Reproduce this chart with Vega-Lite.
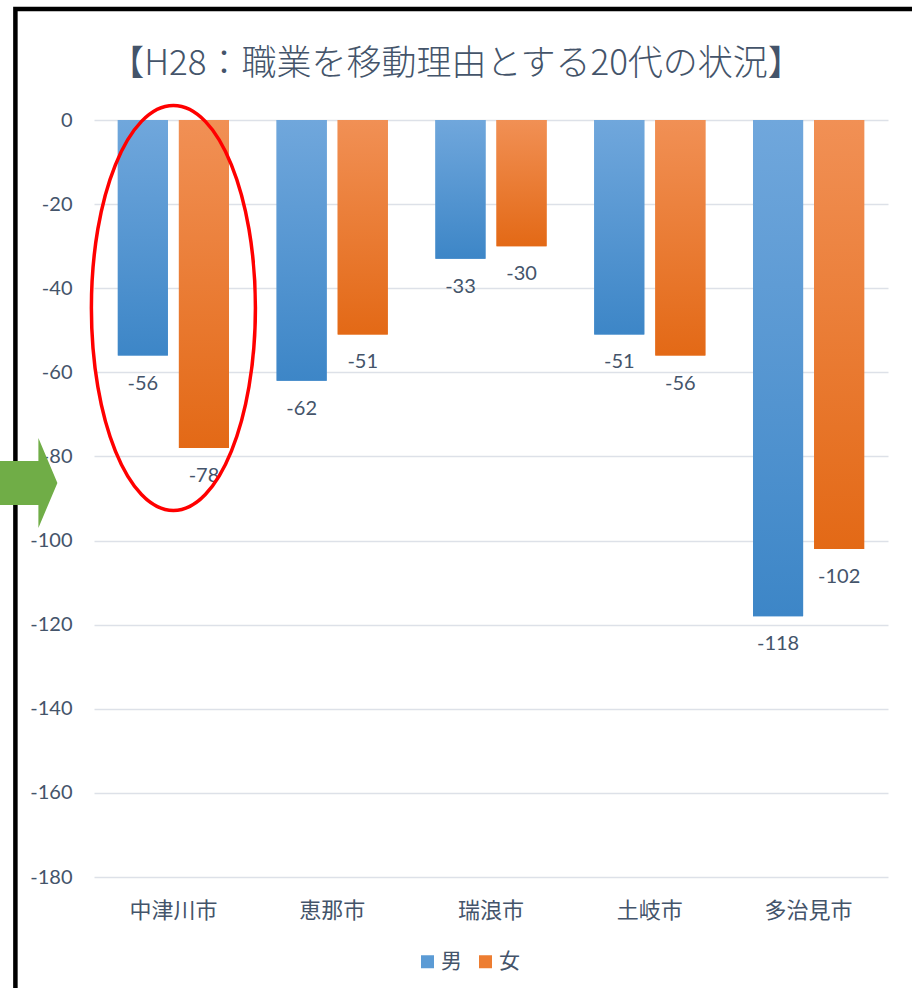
{
  "$schema": "https://vega.github.io/schema/vega-lite/v6.json",
  "width": 794,
  "height": 757,
  "autosize": {"type": "none"},
  "padding": {"left": 94, "top": 120, "right": 24, "bottom": 111},
  "background": "white",
  "title": {
    "text": "【H28：職業を移動理由とする20代の状況】",
    "font": "Noto Sans CJK JP",
    "fontSize": 35,
    "fontWeight": 300,
    "color": "#44546a",
    "anchor": "middle",
    "frame": "group",
    "dx": -35,
    "offset": -82
  },
  "config": {
    "view": {"stroke": null},
    "axis": {"labelColor": "#44546a", "domain": false, "ticks": false, "title": null}
  },
  "layer": [
    {
      "data": {"values": [{"city": "中津川市", "value": 0}]},
      "mark": {"type": "point", "shape": "M -1.58 8.9 L -1.58 -1.11 L 7.6 -1.11", "size": 40000, "filled": false, "stroke": "#000000", "strokeWidth": 4.5, "opacity": 1},
      "encoding": {
        "x": {"field": "city", "type": "nominal", "sort": ["中津川市", "恵那市", "瑞浪市", "土岐市", "多治見市"]},
        "y": {"field": "value", "type": "quantitative"}
      }
    },
    {
      "data": {
        "values": [
          {"city": "中津川市", "sex": "男", "value": -56},
          {"city": "中津川市", "sex": "女", "value": -78},
          {"city": "恵那市", "sex": "男", "value": -62},
          {"city": "恵那市", "sex": "女", "value": -51},
          {"city": "瑞浪市", "sex": "男", "value": -33},
          {"city": "瑞浪市", "sex": "女", "value": -30},
          {"city": "土岐市", "sex": "男", "value": -51},
          {"city": "土岐市", "sex": "女", "value": -56},
          {"city": "多治見市", "sex": "男", "value": -118},
          {"city": "多治見市", "sex": "女", "value": -102}
        ]
      },
      "encoding": {
        "x": {
          "field": "city",
          "type": "nominal",
          "sort": ["中津川市", "恵那市", "瑞浪市", "土岐市", "多治見市"],
          "scale": {"paddingInner": 0.3, "paddingOuter": 0.15},
          "axis": {"labelAngle": 0, "labelAlign": "center", "labelBaseline": "middle", "labelFont": "Noto Sans CJK JP", "labelFontSize": 22, "labelPadding": 33, "grid": false}
        },
        "xOffset": {"field": "sex", "type": "nominal", "sort": ["男", "女"], "scale": {"domain": ["男", "女"], "paddingInner": 0.18, "paddingOuter": 0}},
        "y": {
          "field": "value",
          "type": "quantitative",
          "scale": {"domain": [-180, 0], "nice": false},
          "axis": {
            "values": [0, -20, -40, -60, -80, -100, -120, -140, -160, -180],
            "labelExpr": "'' + datum.value",
            "labelFont": "Lato",
            "labelFontSize": 20,
            "labelPadding": 22,
            "grid": true,
            "gridColor": "#dde1e8",
            "gridWidth": 1.5
          }
        }
      },
      "layer": [
        {
          "mark": {"type": "bar"},
          "encoding": {
            "color": {
              "field": "sex",
              "type": "nominal",
              "sort": ["男", "女"],
              "scale": {"domain": ["男", "女"], "range": ["#5b9bd5", "#ed7d31"]},
              "legend": {
                "title": null,
                "orient": "none",
                "legendX": 323,
                "legendY": 831,
                "direction": "horizontal",
                "symbolType": "square",
                "symbolSize": 169,
                "symbolStrokeWidth": 0,
                "symbolOpacity": 1,
                "labelFont": "Noto Sans CJK JP",
                "labelFontSize": 21,
                "labelColor": "#44546a",
                "columnPadding": 13,
                "labelOffset": 3
              }
            }
          }
        },
        {
          "transform": [{"filter": "datum.sex === '男'"}],
          "mark": {"type": "bar", "color": {"gradient": "linear", "x1": 0, "y1": 0, "x2": 0, "y2": 1, "stops": [{"offset": 0, "color": "#70a7dc"}, {"offset": 1, "color": "#3d86c7"}]}}
        },
        {
          "transform": [{"filter": "datum.sex === '女'"}],
          "mark": {"type": "bar", "color": {"gradient": "linear", "x1": 0, "y1": 0, "x2": 0, "y2": 1, "stops": [{"offset": 0, "color": "#f19055"}, {"offset": 1, "color": "#e36916"}]}}
        },
        {
          "mark": {"type": "text", "dy": 28, "baseline": "middle", "align": "center", "font": "Lato", "fontSize": 20, "color": "#44546a"},
          "encoding": {"text": {"field": "value", "type": "nominal"}}
        }
      ]
    },
    {
      "data": {"values": [{"city": "中津川市", "value": -44.7}]},
      "mark": {"type": "point", "shape": "M 0 -1 C 0.2237 -1 0.405 -0.5523 0.405 0 C 0.405 0.5523 0.2237 1 0 1 C -0.2237 1 -0.405 0.5523 -0.405 0 C -0.405 -0.5523 -0.2237 -1 0 -1 Z", "size": 164025, "filled": false, "stroke": "#ff0000", "strokeWidth": 3.5, "opacity": 1},
      "encoding": {
        "x": {"field": "city", "type": "nominal", "sort": ["中津川市", "恵那市", "瑞浪市", "土岐市", "多治見市"]},
        "y": {"field": "value", "type": "quantitative"}
      }
    },
    {
      "data": {"values": [{"city": "中津川市", "value": -86.3}]},
      "mark": {"type": "point", "shape": "M -1.8 -0.22 L -1.35 -0.22 L -1.35 -0.45 L -1.16 0 L -1.35 0.45 L -1.35 0.22 L -1.8 0.22 Z", "size": 40000, "filled": true, "fill": "#70ad47", "strokeWidth": 0, "opacity": 1},
      "encoding": {
        "x": {"field": "city", "type": "nominal", "sort": ["中津川市", "恵那市", "瑞浪市", "土岐市", "多治見市"]},
        "y": {"field": "value", "type": "quantitative"}
      }
    }
  ]
}
